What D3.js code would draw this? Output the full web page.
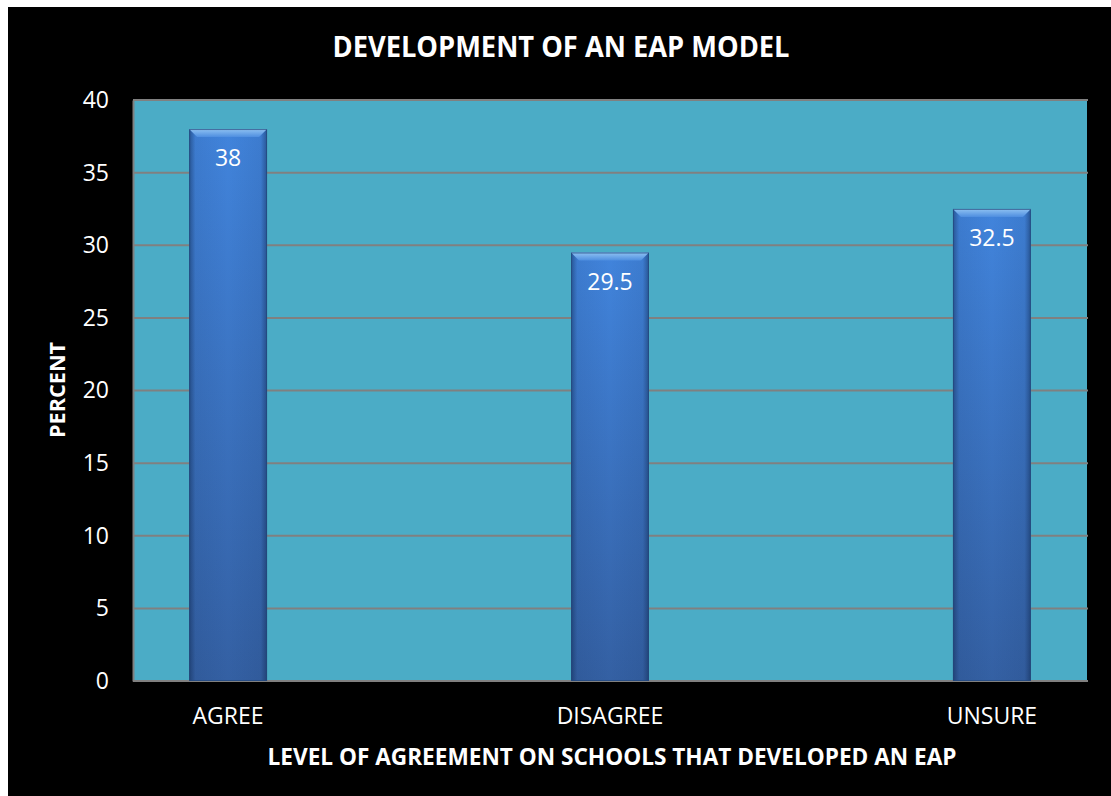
<!DOCTYPE html>
<html><head><meta charset="utf-8">
<script src="https://cdn.jsdelivr.net/npm/d3@7"></script>
<style>html,body{margin:0;padding:0;background:#fff;}svg{display:block;}</style>
</head><body>
<svg id="c" width="1111" height="796"></svg>
<script>
const categories = ["AGREE", "DISAGREE", "UNSURE"];
const values = [38, 29.5, 32.5];
const yTicks = [0, 5, 10, 15, 20, 25, 30, 35, 40];
const titleText = "DEVELOPMENT OF AN EAP MODEL";
const xTitle = "LEVEL OF AGREEMENT ON SCHOOLS THAT DEVELOPED AN EAP";
const yTitle = "PERCENT";

const svg = d3.select("#c");
const font = "'Open Sans', 'DejaVu Sans', sans-serif";
svg.append("rect").attr("x", 8).attr("y", 7).attr("width", 1103).attr("height", 789).attr("fill", "#000");

const m = {l: 133, r: 1087, t: 100, b: 681};
const x = d3.scaleBand().domain(categories).range([m.l, m.r]).paddingInner(0.796).paddingOuter(0.147);
const y = d3.scaleLinear().domain([0, 40]).range([m.b, m.t]);

const defs = svg.append("defs");
const g1 = defs.append("linearGradient").attr("id", "body").attr("x1", 0).attr("y1", 0).attr("x2", 0).attr("y2", 1);
g1.append("stop").attr("offset", "0%").attr("stop-color", "#4184dc");
g1.append("stop").attr("offset", "100%").attr("stop-color", "#3460a3");
const g2 = defs.append("linearGradient").attr("id", "edge").attr("x1", 0).attr("y1", 0).attr("x2", 1).attr("y2", 0);
g2.append("stop").attr("offset", "0%").attr("stop-color", "#0a1e40").attr("stop-opacity", 0.45);
g2.append("stop").attr("offset", "8%").attr("stop-color", "#0a1e40").attr("stop-opacity", 0.08);
g2.append("stop").attr("offset", "50%").attr("stop-color", "#0a1e40").attr("stop-opacity", 0);
g2.append("stop").attr("offset", "92%").attr("stop-color", "#0a1e40").attr("stop-opacity", 0.08);
g2.append("stop").attr("offset", "100%").attr("stop-color", "#0a1e40").attr("stop-opacity", 0.45);
const g3 = defs.append("linearGradient").attr("id", "bevel").attr("x1", 0).attr("y1", 0).attr("x2", 0).attr("y2", 1);
g3.append("stop").attr("offset", "0%").attr("stop-color", "#8fc2f2");
g3.append("stop").attr("offset", "100%").attr("stop-color", "#4e8ee0");

// plot background
svg.append("rect").attr("x", m.l).attr("y", m.t).attr("width", m.r - m.l).attr("height", m.b - m.t).attr("fill", "#4bacc6");

// gridlines
svg.append("g").selectAll("line").data(yTicks.filter(d => d > 0)).join("line")
  .attr("x1", m.l).attr("x2", m.r + 1).attr("y1", d => y(d)).attr("y2", d => y(d))
  .attr("stroke", "#808080").attr("stroke-width", 2);

// y axis
const yAxis = svg.append("g").attr("transform", `translate(${m.l},0)`)
  .call(d3.axisLeft(y).tickValues(yTicks).tickSize(0).tickPadding(24));
yAxis.select(".domain").attr("stroke", "#808080").attr("stroke-width", 2);
yAxis.selectAll("text").attr("fill", "#fff").style("font-family", font).style("font-size", "23px");

// x axis
const xAxis = svg.append("g").attr("transform", `translate(0,${m.b})`)
  .call(d3.axisBottom(x).tickSize(0).tickPadding(27));
xAxis.select(".domain").remove();
xAxis.selectAll("text").attr("fill", "#fff").style("font-family", font).style("font-size", "23px");
svg.append("line").attr("x1", m.l).attr("x2", m.r + 1).attr("y1", m.b).attr("y2", m.b).attr("stroke", "#808080").attr("stroke-width", 2);

// bars
const bars = svg.append("g").selectAll("g").data(categories.map((c, i) => ({c, v: values[i]}))).join("g");
bars.append("rect").attr("x", d => x(d.c)).attr("y", d => y(d.v)).attr("width", x.bandwidth()).attr("height", d => y(0) - y(d.v)).attr("fill", "url(#body)");
bars.append("rect").attr("x", d => x(d.c)).attr("y", d => y(d.v)).attr("width", x.bandwidth()).attr("height", d => y(0) - y(d.v)).attr("fill", "url(#edge)");
bars.append("path").attr("d", d => {
  const x0 = x(d.c), x1 = x0 + x.bandwidth(), t = y(d.v), bv = 8;
  return `M${x0},${t}L${x1},${t}L${x1 - bv},${t + bv}L${x0 + bv},${t + bv}Z`;
}).attr("fill", "url(#bevel)");
bars.append("rect").attr("x", d => x(d.c) + 0.5).attr("y", d => y(d.v) + 0.5).attr("width", x.bandwidth() - 1).attr("height", d => y(0) - y(d.v) - 1)
  .attr("fill", "none").attr("stroke", "#24477a").attr("stroke-width", 1).attr("stroke-opacity", 0.7);
bars.append("text").attr("x", d => x(d.c) + x.bandwidth() / 2).attr("y", d => y(d.v) + 37)
  .attr("text-anchor", "middle").attr("fill", "#fff").style("font-family", font).style("font-size", "23px")
  .text(d => d.v);

// titles
svg.append("text").attr("x", 561).attr("y", 57).attr("text-anchor", "middle").attr("fill", "#fff")
  .style("font-family", font).style("font-weight", "bold").style("font-size", "29px")
  .attr("textLength", 457).attr("lengthAdjust", "spacingAndGlyphs").text(titleText);
svg.append("text").attr("x", 612).attr("y", 765).attr("text-anchor", "middle").attr("fill", "#fff")
  .style("font-family", font).style("font-weight", "bold").style("font-size", "24px")
  .attr("textLength", 689).attr("lengthAdjust", "spacingAndGlyphs").text(xTitle);
svg.append("text").attr("transform", "translate(65,390) rotate(-90)").attr("text-anchor", "middle").attr("fill", "#fff")
  .style("font-family", font).style("font-weight", "bold").style("font-size", "21px")
  .attr("textLength", 96).attr("lengthAdjust", "spacingAndGlyphs").text(yTitle);
</script>
</body></html>
